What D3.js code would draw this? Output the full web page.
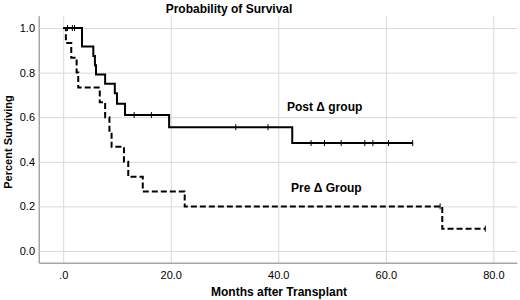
<!DOCTYPE html>
<html>
<head>
<meta charset="utf-8">
<script src="https://cdn.jsdelivr.net/npm/d3@7"></script>
<style>
  body { margin: 0; background: #fff; }
  svg { font-family: "Liberation Sans", Arial, sans-serif; }
</style>
</head>
<body>
<svg id="chart" width="520" height="300"></svg>
<script>
// Post group (solid): event times and survival after each step
var postTimes = [0, 3.5, 5.6, 5.9, 6.1, 7.8, 9.6, 10.0, 11.5, 19.7, 42.6, 65.0];
var postSurv  = [1, 0.917, 0.875, 0.833, 0.792, 0.75, 0.708, 0.66, 0.61, 0.555, 0.484, 0.484];
var postCensor = [0.8, 1.7, 2.1, 13.2, 16.4, 32.1, 38.1, 46.1, 48.6, 51.7, 56.1, 57.6, 60.5, 65.0];

// Pre group (dashed)
var preTimes = [0, 0.5, 1.5, 2.5, 2.8, 6.8, 7.8, 8.6, 9.0, 11.3, 12.1, 14.8, 22.6, 70.5, 78.5];
var preSurv  = [1, 0.933, 0.867, 0.8, 0.733, 0.667, 0.6, 0.533, 0.467, 0.4, 0.333, 0.267, 0.2, 0.1, 0.1];
var preCensor = [70.1, 78.5];

var xTicks = [0, 20, 40, 60, 80];
var yTicks = [0, 0.2, 0.4, 0.6, 0.8, 1.0];

var svg = d3.select('#chart');
var plotLeft = 39, plotRight = 517, plotTop = 16, plotBottom = 263;

var x = d3.scaleLinear().domain([-4.5, 84.4]).range([plotLeft, plotRight]);
var y = d3.scaleLinear().domain([-0.054, 1.054]).range([plotBottom, plotTop]);

// grid + y axis
var yAxis = svg.append('g')
  .attr('transform', 'translate(' + plotLeft + ',0)')
  .call(d3.axisLeft(y).tickValues(yTicks).tickSize(-(plotRight - plotLeft)).tickSizeOuter(0)
    .tickPadding(4).tickFormat(d3.format('.1f')));
yAxis.selectAll('.tick line').attr('stroke', '#d9d9d9');
yAxis.select('.domain').attr('stroke', '#a6a6a6');
yAxis.selectAll('text').attr('font-size', 11).attr('fill', '#000')
  .attr('font-family', '"Liberation Sans", Arial, sans-serif');

var xAxis = svg.append('g')
  .attr('transform', 'translate(0,' + plotBottom + ')')
  .call(d3.axisBottom(x).tickValues(xTicks).tickSize(-(plotBottom - plotTop)).tickSizeOuter(0)
    .tickPadding(8).tickFormat(function (d) { return d === 0 ? '.0' : d.toFixed(1); }));
xAxis.selectAll('.tick line').attr('stroke', '#d9d9d9');
xAxis.select('.domain').attr('stroke', '#a6a6a6');
xAxis.selectAll('text').attr('font-size', 11).attr('fill', '#000')
  .attr('font-family', '"Liberation Sans", Arial, sans-serif');

// redraw axis lines on top of grid
svg.append('line').attr('x1', plotLeft).attr('x2', plotLeft).attr('y1', plotTop).attr('y2', plotBottom)
  .attr('stroke', '#a6a6a6');
svg.append('line').attr('x1', plotLeft).attr('x2', plotRight).attr('y1', plotBottom).attr('y2', plotBottom)
  .attr('stroke', '#a6a6a6');

var line = d3.line()
  .x(function (d) { return x(d[0]); })
  .y(function (d) { return y(d[1]); })
  .curve(d3.curveStepAfter);

var survAt = function (times, surv, t) {
  var s = surv[0];
  for (var i = 0; i < times.length; i++) {
    if (times[i] <= t) s = surv[i];
  }
  return s;
};

var drawCurve = function (times, surv, censor, dash) {
  svg.append('path')
    .attr('d', line(d3.zip(times, surv)))
    .attr('fill', 'none')
    .attr('stroke', '#000')
    .attr('stroke-width', 2)
    .attr('stroke-dasharray', dash);

  svg.selectAll(null)
    .data(censor)
    .enter().append('line')
    .attr('x1', function (d) { return x(d); })
    .attr('x2', function (d) { return x(d); })
    .attr('y1', function (d) { return y(survAt(times, surv, d)) - 3; })
    .attr('y2', function (d) { return y(survAt(times, surv, d)) + 3; })
    .attr('stroke', '#000')
    .attr('stroke-width', 1);
};

drawCurve(preTimes, preSurv, preCensor, '6,3');
drawCurve(postTimes, postSurv, postCensor, null);

// labels
svg.append('text').attr('x', 229).attr('y', 13).attr('text-anchor', 'middle')
  .attr('font-size', 12).attr('font-weight', 'bold').text('Probability of Survival');
svg.append('text').attr('x', 287).attr('y', 111)
  .attr('font-size', 12).attr('font-weight', 'bold').text('Post \u0394 group');
svg.append('text').attr('x', 291).attr('y', 192)
  .attr('font-size', 12).attr('font-weight', 'bold').text('Pre \u0394 Group');
svg.append('text').attr('x', 279).attr('y', 296).attr('text-anchor', 'middle')
  .attr('font-size', 12).attr('font-weight', 'bold').text('Months after Transplant');
svg.append('text').attr('transform', 'translate(12,142) rotate(-90)').attr('text-anchor', 'middle')
  .attr('font-size', 11).attr('font-weight', 'bold').text('Percent Surviving');
</script>
</body>
</html>
